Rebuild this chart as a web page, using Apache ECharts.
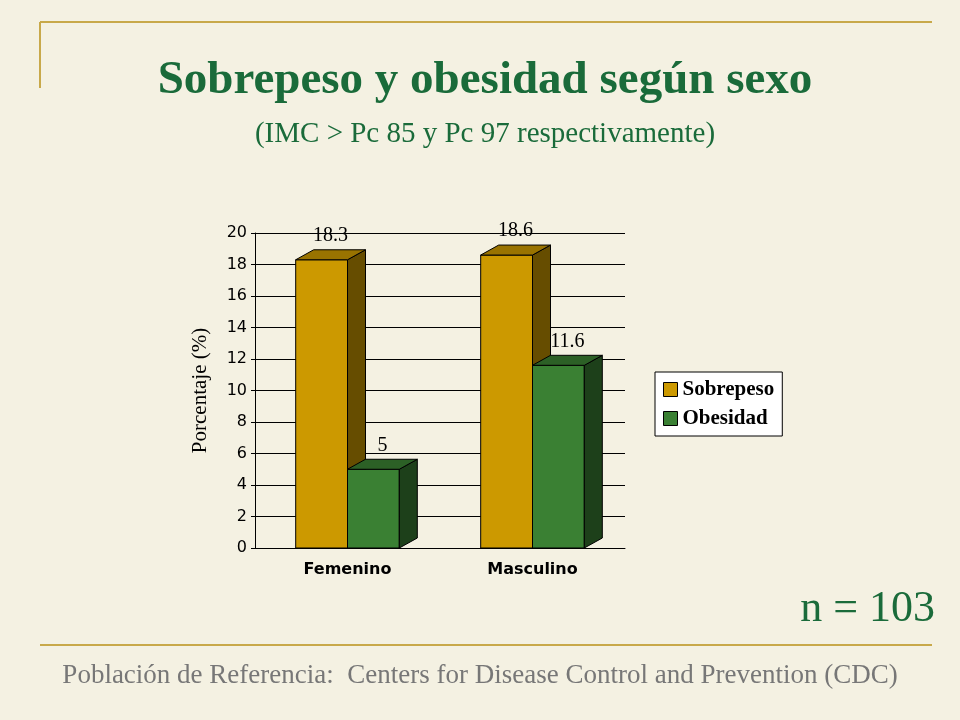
<!DOCTYPE html><html><head><meta charset="utf-8">
<script src="https://cdn.jsdelivr.net/npm/echarts@6/dist/echarts.min.js"></script>
<style>html,body{margin:0;padding:0;background:#f4f1e2}#c{width:960px;height:720px}</style></head><body><div id="c"></div>
<script>
const categories=['Femenino','Masculino'];
const sobrepeso=[18.3,18.6];
const obesidad=[5,11.6];
const yTicks=[0,2,4,6,8,10,12,14,16,18,20];
const DX=18,DY=-10;
function shade(c,f){const n=parseInt(c.slice(1),16);let r=(n>>16)*f,g=((n>>8)&255)*f,b=(n&255)*f;return 'rgb('+[r,g,b].map(Math.round).join(',')+')';}
function bar3d(color,offset,data){return{type:'custom',name:offset<0?'Sobrepeso':'Obesidad',data:data.map((v,i)=>[i,v]),
 itemStyle:{color:color},
 renderItem:(p,api)=>{const c=api.coord([api.value(0),api.value(1)]);const b=api.coord([api.value(0),0]);const w=api.size([1,0])[0]*0.28;
 const x0=c[0]+(offset<0?-w:0),x1=x0+w,yt=c[1],yb=b[1];
 return{type:'group',children:[
 {type:'rect',shape:{x:x0,y:yt,width:w,height:yb-yt},style:{fill:color,stroke:'#000',lineWidth:1}},
 {type:'polygon',shape:{points:[[x1,yt],[x1+DX,yt+DY],[x1+DX,yb+DY],[x1,yb]]},style:{fill:shade(color,0.5),stroke:'#000',lineWidth:1}},
 {type:'polygon',shape:{points:[[x0,yt],[x0+DX,yt+DY],[x1+DX,yt+DY],[x1,yt]]},style:{fill:shade(color,0.75),stroke:'#000',lineWidth:1}},
 {type:'text',style:{text:String(api.value(1)),x:(x0+x1)/2+DX/2,y:yt+DY-4,align:'center',verticalAlign:'bottom',font:'20px "Liberation Serif"',fill:'#000'}}
 ]};}};}
const ch=echarts.init(document.getElementById('c'));
ch.setOption({backgroundColor:'#f4f1e2',animation:false,
 title:[{text:'Sobrepeso y obesidad según sexo',left:480,top:52,textAlign:'center',textStyle:{fontFamily:'Liberation Serif',fontSize:47,fontWeight:'bold',color:'#1a6b3a'}},
 {text:'(IMC > Pc 85 y Pc 97 respectivamente)',left:480,top:115,textAlign:'center',textStyle:{fontFamily:'Liberation Serif',fontSize:29,fontWeight:'normal',color:'#1a6b3a'}},
 {text:'n = 103',left:930,top:582,textAlign:'right',textStyle:{fontFamily:'Liberation Serif',fontSize:44,fontWeight:'normal',color:'#1a6b3a'}},
 {text:'Población de Referencia:  Centers for Disease Control and Prevention (CDC)',left:475,top:657,textAlign:'center',textStyle:{fontFamily:'Liberation Serif',fontSize:27,fontWeight:'normal',color:'#777'}}],
 legend:{left:655,top:372,orient:'vertical',backgroundColor:'#fff',borderColor:'#000',borderWidth:1,padding:[7,8],itemGap:8,itemWidth:14,itemHeight:14,
 data:[{name:'Sobrepeso',icon:'rect',itemStyle:{color:'#cc9900',borderColor:'#000',borderWidth:1}},{name:'Obesidad',icon:'rect',itemStyle:{color:'#3a8033',borderColor:'#000',borderWidth:1}}],
 textStyle:{fontFamily:'Liberation Serif',fontSize:21,fontWeight:'bold',color:'#000'}},
 grid:{left:255,right:335,top:233,bottom:172},
 xAxis:{type:'category',data:categories,axisTick:{show:false},axisLine:{lineStyle:{color:'#000'}},axisLabel:{margin:14,fontFamily:'DejaVu Sans',fontWeight:'bold',fontSize:16,color:'#000'}},
 yAxis:{type:'value',min:0,max:20,interval:2,name:'Porcentaje (%)',nameLocation:'middle',nameGap:44,nameTextStyle:{fontFamily:'Liberation Serif',fontSize:21,color:'#000'},
 axisLine:{show:true,lineStyle:{color:'#000'}},axisTick:{show:true,length:4,lineStyle:{color:'#000'}},axisLabel:{fontFamily:'DejaVu Sans',fontSize:16,color:'#000',formatter:v=>yTicks.includes(v)?String(v):''},
 splitLine:{lineStyle:{color:'#000',width:1}}},
 series:[bar3d('#cc9900',-1,sobrepeso),bar3d('#3a8033',1,obesidad)],
 graphic:[{type:'line',shape:{x1:40,y1:22,x2:932,y2:22},style:{stroke:'#c8a94a',lineWidth:2}},
 {type:'line',shape:{x1:40,y1:22,x2:40,y2:88},style:{stroke:'#c8a94a',lineWidth:2}},
 {type:'line',shape:{x1:40,y1:645,x2:932,y2:645},style:{stroke:'#c8a94a',lineWidth:2}}]
});
</script></body></html>
